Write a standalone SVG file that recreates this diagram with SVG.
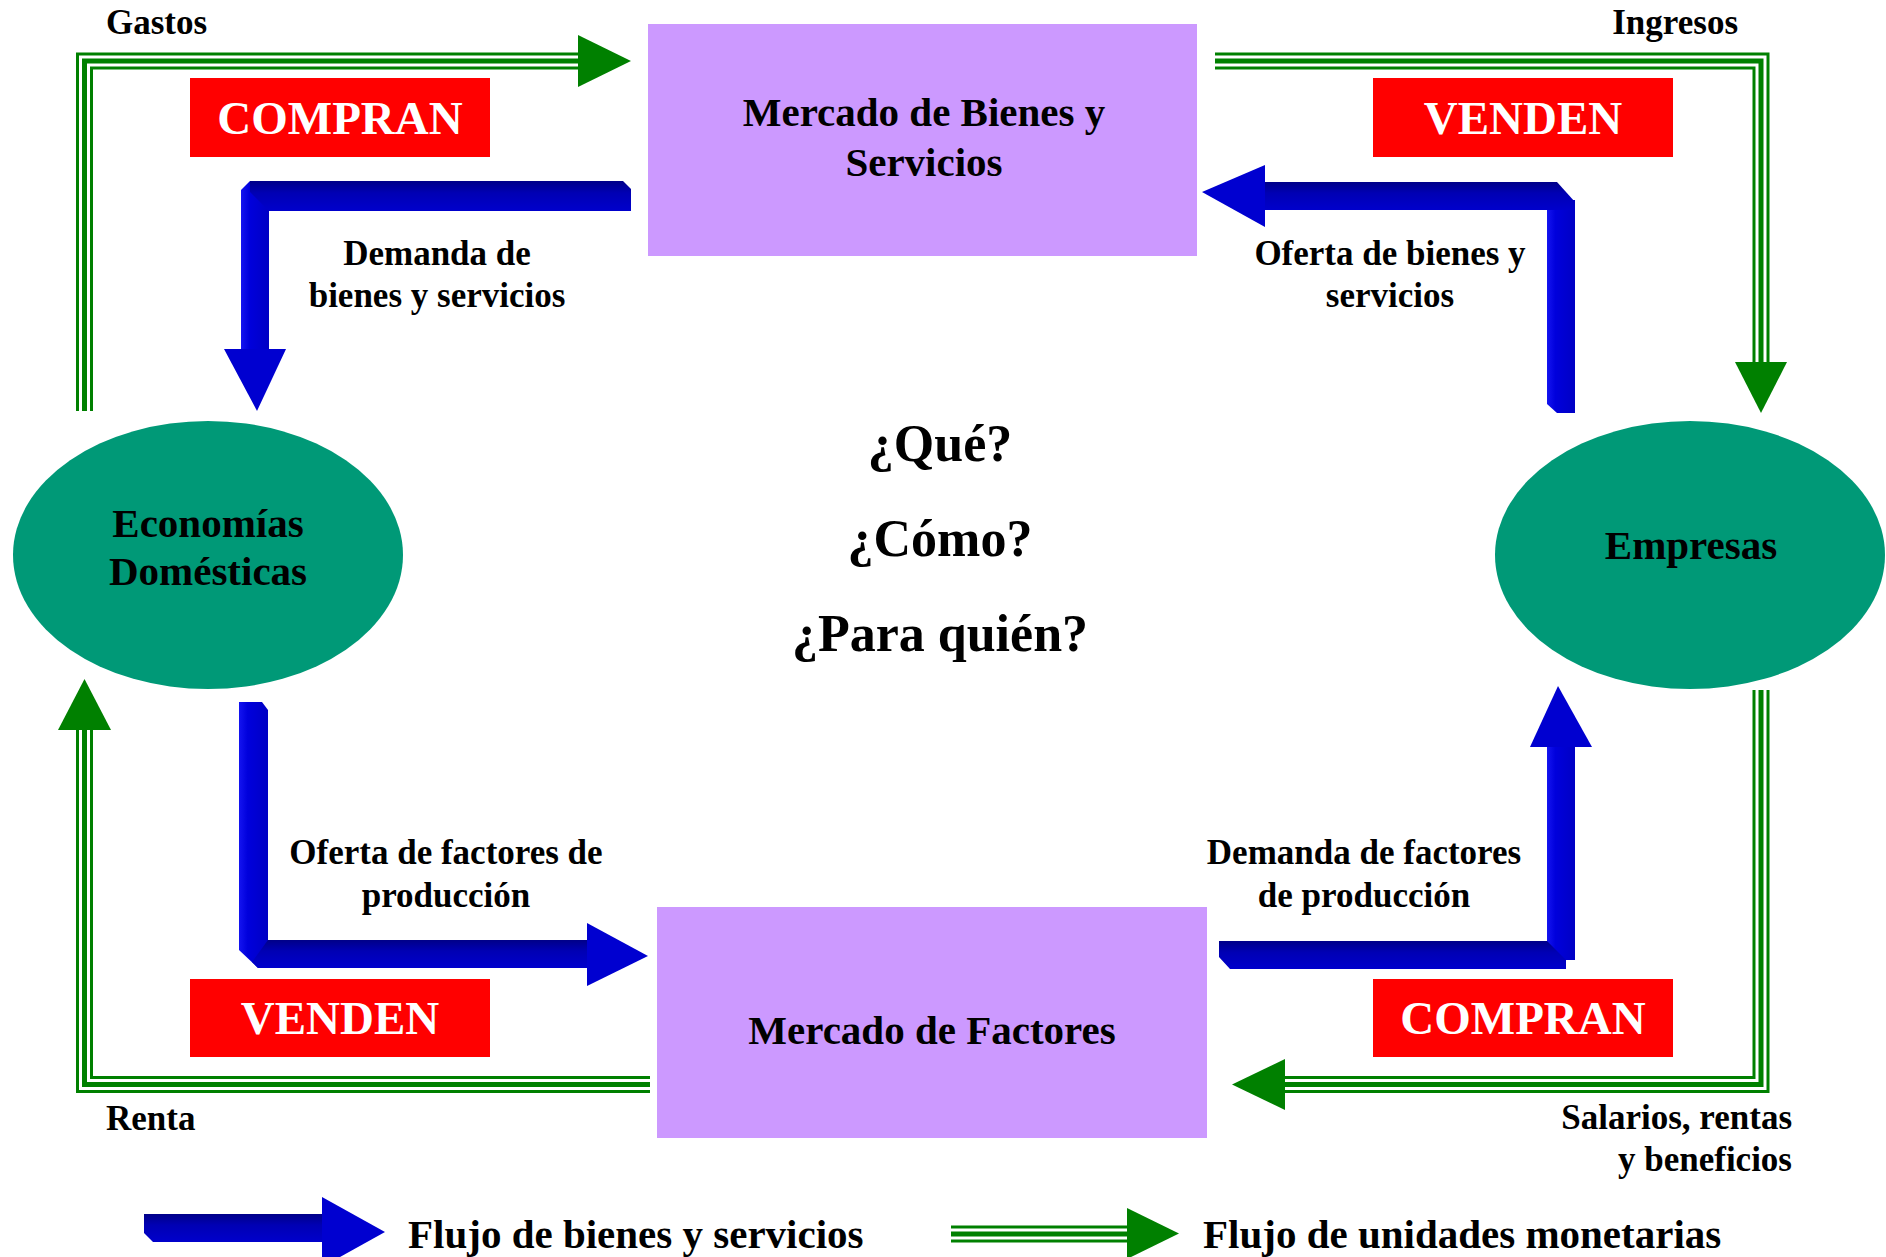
<svg xmlns="http://www.w3.org/2000/svg" width="1886" height="1257" viewBox="0 0 1886 1257">
  <style>
    text { font-family: "Liberation Serif", "Times New Roman", serif; font-weight: bold; fill: #000; }
    .node { font-size: 41px; text-anchor: middle; }
    .flow { font-size: 35px; text-anchor: middle; }
    .side { font-size: 35px; }
    .tag { font-size: 47px; text-anchor: middle; fill: #fff; }
    .q { font-size: 52px; text-anchor: middle; }
    .leg { font-size: 41px; }
    .box { fill: #CC99FF; }
    .oval { fill: #009977; }
    .red { fill: #FF0000; }
    .g1 { fill: none; stroke: #008000; stroke-width: 17; stroke-linejoin: miter; }
    .g2 { fill: none; stroke: #FFFFFF; stroke-width: 11; stroke-linejoin: miter; }
    .g3 { fill: none; stroke: #008000; stroke-width: 5; stroke-linejoin: miter; }
    .ghead { fill: #008000; }
    .bh { fill: url(#gH); }
    .bv { fill: url(#gV); }
    .bhead { fill: #0000D0; }
  </style>
  <defs>
    <linearGradient id="gH" x1="0" y1="0" x2="0" y2="1">
      <stop offset="0" stop-color="#000088"/>
      <stop offset="0.4" stop-color="#0000B4"/>
      <stop offset="1" stop-color="#0000CC"/>
    </linearGradient>
    <linearGradient id="gV" x1="0" y1="0" x2="1" y2="0">
      <stop offset="0" stop-color="#1414F0"/>
      <stop offset="0.3" stop-color="#0000DC"/>
      <stop offset="1" stop-color="#0000C4"/>
    </linearGradient>
    <path id="m1" d="M84.5 411 V61 H578"/>
    <path id="m2" d="M1215 61 H1761 V362"/>
    <path id="m3" d="M1761 690 V1084.5 H1285"/>
    <path id="m4" d="M650 1084.5 H84.5 V730"/>
    <path id="m5" d="M951 1234 H1127"/>
  </defs>
  <rect width="1886" height="1257" fill="#fff"/>

  <g id="connectors">
    <!-- money flows (green triple lines) -->
    <g id="money-gastos">
      <use href="#m1" class="g1"/><use href="#m1" class="g2"/><use href="#m1" class="g3"/>
      <polygon class="ghead" points="578,35 578,87 631,61"/>
    </g>
    <g id="money-ingresos">
      <use href="#m2" class="g1"/><use href="#m2" class="g2"/><use href="#m2" class="g3"/>
      <polygon class="ghead" points="1735,362 1787,362 1761,413"/>
    </g>
    <g id="money-salarios">
      <use href="#m3" class="g1"/><use href="#m3" class="g2"/><use href="#m3" class="g3"/>
      <polygon class="ghead" points="1285,1059 1285,1110 1232,1084.5"/>
    </g>
    <g id="money-renta">
      <use href="#m4" class="g1"/><use href="#m4" class="g2"/><use href="#m4" class="g3"/>
      <polygon class="ghead" points="58,730 111,730 84.5,679"/>
    </g>
    <!-- goods flows (blue 3D arrows) -->
    <g id="flow-demanda-bienes">
      <polygon class="bv" points="241,190 250,181 269,190 269,349 241,349"/>
      <polygon class="bh" points="250,181 623,181 631,189 631,211 269,211 250,192"/>
      <polygon class="bhead" points="224,349 286,349 257,411"/>
    </g>
    <g id="flow-oferta-bienes">
      <polygon class="bv" points="1547,200 1575,200 1575,413 1557,413 1547,404"/>
      <polygon class="bh" points="1265,182 1557,182 1575,202 1575,210 1265,210"/>
      <polygon class="bhead" points="1265,165 1265,227 1202,192"/>
    </g>
    <g id="flow-oferta-factores">
      <polygon class="bv" points="239,702 262,702 268,710 268,968 258,968 239,950"/>
      <polygon class="bh" points="268,940 587,940 587,968 258,968 252,962"/>
      <polygon class="bhead" points="587,923 648,956 587,986"/>
    </g>
    <g id="flow-demanda-factores">
      <polygon class="bv" points="1547,745 1575,745 1575,960 1547,960"/>
      <polygon class="bh" points="1219,941 1547,941 1566,960 1575,960 1566,960 1566,969 1230,969 1219,957"/>
      <polygon class="bhead" points="1530,747 1592,747 1558,686"/>
    </g>
  </g>

  <g id="node-mercado-bienes">
    <rect class="box" x="648" y="24" width="549" height="232"/>
    <text class="node" x="924" y="126">Mercado de Bienes y</text>
    <text class="node" x="924" y="176">Servicios</text>
  </g>
  <g id="node-mercado-factores">
    <rect class="box" x="657" y="907" width="550" height="231"/>
    <text class="node" x="932" y="1044">Mercado de Factores</text>
  </g>
  <g id="node-economias">
    <ellipse class="oval" cx="208" cy="555" rx="195" ry="134"/>
    <text class="node" x="208" y="537">Economías</text>
    <text class="node" x="208" y="585">Domésticas</text>
  </g>
  <g id="node-empresas">
    <ellipse class="oval" cx="1690" cy="555" rx="195" ry="134"/>
    <text class="node" x="1691" y="559">Empresas</text>
  </g>

  <g id="tag-compran-top">
    <rect class="red" x="190" y="78" width="300" height="79"/>
    <text class="tag" x="340" y="134">COMPRAN</text>
  </g>
  <g id="tag-venden-top">
    <rect class="red" x="1373" y="78" width="300" height="79"/>
    <text class="tag" x="1523" y="134">VENDEN</text>
  </g>
  <g id="tag-venden-bottom">
    <rect class="red" x="190" y="979" width="300" height="78"/>
    <text class="tag" x="340" y="1034">VENDEN</text>
  </g>
  <g id="tag-compran-bottom">
    <rect class="red" x="1373" y="979" width="300" height="78"/>
    <text class="tag" x="1523" y="1034">COMPRAN</text>
  </g>

  <g id="labels">
    <text class="side" x="106" y="34">Gastos</text>
    <text class="side" x="1738" y="34" text-anchor="end">Ingresos</text>
    <text class="side" x="106" y="1130">Renta</text>
    <text class="side" x="1792" y="1129" text-anchor="end">Salarios, rentas</text>
    <text class="side" x="1792" y="1171" text-anchor="end">y beneficios</text>
    <text class="flow" x="437" y="265">Demanda de</text>
    <text class="flow" x="437" y="307">bienes y servicios</text>
    <text class="flow" x="1390" y="265">Oferta de bienes y</text>
    <text class="flow" x="1390" y="307">servicios</text>
    <text class="flow" x="446" y="864">Oferta de factores de</text>
    <text class="flow" x="446" y="907">producción</text>
    <text class="flow" x="1364" y="864">Demanda de factores</text>
    <text class="flow" x="1364" y="907">de producción</text>
    <text class="q" x="940" y="461">¿Qué?</text>
    <text class="q" x="940" y="556">¿Cómo?</text>
    <text class="q" x="940" y="651">¿Para quién?</text>
  </g>

  <g id="legend">
    <g id="legend-goods">
      <polygon class="bh" points="144,1214 322,1214 322,1242 153,1242 144,1233"/>
      <polygon class="bhead" points="322,1197 385,1232 322,1267"/>
      <text class="leg" x="408" y="1248">Flujo de bienes y servicios</text>
    </g>
    <g id="legend-money">
      <use href="#m5" class="g1"/><use href="#m5" class="g2"/><use href="#m5" class="g3"/>
      <polygon class="ghead" points="1127,1208 1127,1259 1179,1233.5"/>
      <text class="leg" x="1203" y="1248">Flujo de unidades monetarias</text>
    </g>
  </g>
</svg>
